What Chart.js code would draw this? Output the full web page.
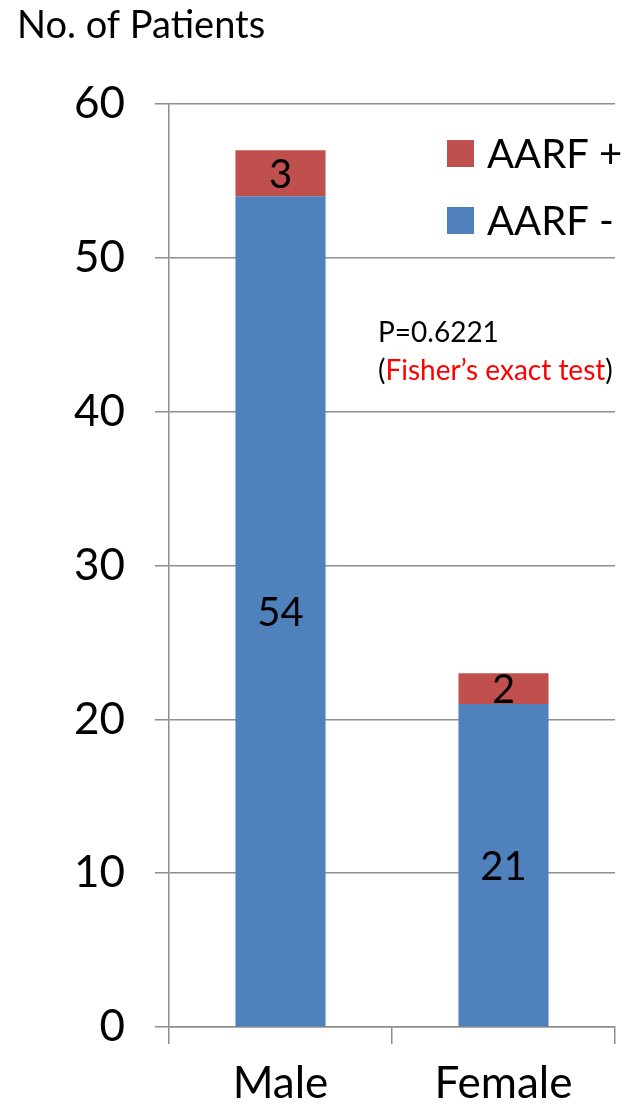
<!DOCTYPE html>
<html>
<head>
<meta charset="utf-8">
<script src="https://cdn.jsdelivr.net/npm/chart.js@4"></script>
<style>
  html, body { margin: 0; padding: 0; background: #fff; }
  #wrap { width: 632px; height: 1112px; }
</style>
</head>
<body>
<div id="wrap"><canvas id="patientChart" width="632" height="1112"></canvas></div>
<script>
const categories = ["Male", "Female"];
const aarfNeg = [54, 21];
const aarfPos = [3, 2];
const yTicks = [0, 10, 20, 30, 40, 50, 60];

const FONT = "Lato, 'Noto Sans', sans-serif";
const gridGray = "#8e8e8e";

const overlay = {
    id: "overlay",
    afterDatasetsDraw(chart) {
        const ctx = chart.ctx;
        ctx.save();
        ctx.fillStyle = "#000";
        ctx.textAlign = "center";
        ctx.textBaseline = "middle";
        ctx.font = "40px " + FONT;
        chart.data.datasets.forEach(function (ds, di) {
            chart.getDatasetMeta(di).data.forEach(function (bar, i) {
                const mid = (bar.y + bar.base) / 2;
                ctx.fillText(String(ds.data[i]), bar.x, mid + 2);
            });
        });

        // title
        ctx.textAlign = "left";
        ctx.font = "38px " + FONT;
        ctx.fillText("No. of Patients", 17, 26);

        // legend (AARF + on top)
        const items = [chart.data.datasets[1], chart.data.datasets[0]];
        ctx.font = "40px " + FONT;
        items.forEach(function (ds, k) {
            const top = 140 + k * 67;
            ctx.fillStyle = ds.backgroundColor;
            ctx.fillRect(447, top, 27, 27);
            ctx.fillStyle = "#000";
            ctx.fillText(ds.label, 487, top + 15);
        });

        // p value note
        ctx.font = "28px " + FONT;
        ctx.fillText("P=0.6221", 378, 333);
        ctx.fillText("(", 378, 371);
        let x = 378 + ctx.measureText("(").width;
        ctx.fillStyle = "#ff0000";
        ctx.fillText("Fisher\u2019s exact test", x, 371);
        x += ctx.measureText("Fisher\u2019s exact test").width;
        ctx.fillStyle = "#000";
        ctx.fillText(")", x, 371);
        ctx.restore();
    }
};

const ctx = document.getElementById("patientChart").getContext("2d");
const patientChart = new Chart(ctx, {
    type: "bar",
    data: {
        labels: categories,
        datasets: [{
            label: "AARF -",
            data: aarfNeg,
            backgroundColor: "#4F81BD",
            categoryPercentage: 0.404,
            barPercentage: 1
        }, {
            label: "AARF +",
            data: aarfPos,
            backgroundColor: "#C0504D",
            categoryPercentage: 0.404,
            barPercentage: 1
        }]
    },
    options: {
        responsive: false,
        animation: false,
        layout: { padding: { top: 104, right: 17, left: 0, bottom: 0 } },
        plugins: {
            legend: { display: false },
            tooltip: { enabled: false }
        },
        scales: {
            x: {
                stacked: true,
                grid: { drawOnChartArea: false, tickLength: 17, color: gridGray, lineWidth: 1.5 },
                border: { display: true, color: gridGray, width: 1.5 },
                ticks: { color: "#000", font: { family: FONT, size: 44 }, padding: 13 },
                afterFit: function (scale) { scale.height = 85; }
            },
            y: {
                stacked: true,
                min: yTicks[0],
                max: yTicks[yTicks.length - 1],
                afterBuildTicks: function (scale) {
                    scale.ticks = yTicks.map(function (v) { return { value: v }; });
                },
                grid: { color: gridGray, lineWidth: 1.5, tickLength: 14 },
                border: { display: true, color: gridGray, width: 1.5 },
                ticks: { color: "#000", font: { family: FONT, size: 44 }, padding: 30 },
                afterFit: function (scale) { scale.width = 169; }
            }
        }
    },
    plugins: [overlay]
});
</script>
</body>
</html>
